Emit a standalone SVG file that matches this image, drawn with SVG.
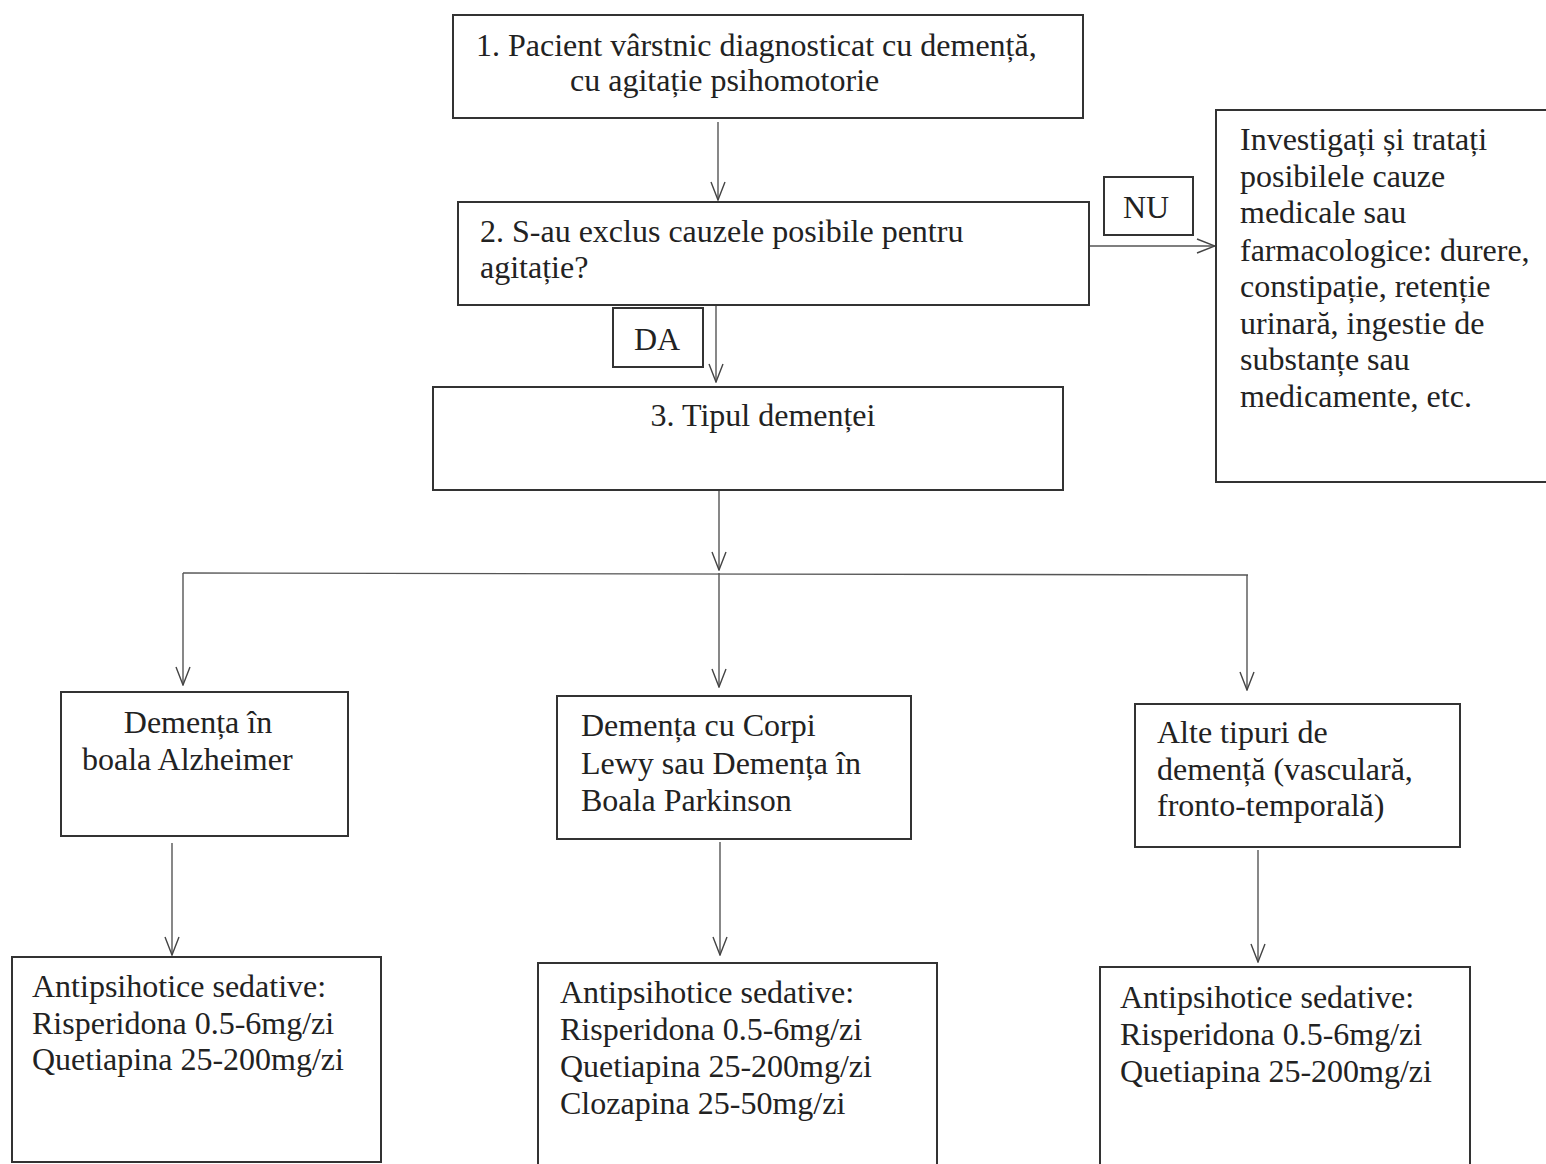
<svg xmlns="http://www.w3.org/2000/svg" width="1546" height="1164" viewBox="0 0 1546 1164">
<defs>
<marker id="arr" viewBox="0 0 20 16" refX="19" refY="8" markerWidth="20" markerHeight="16" markerUnits="userSpaceOnUse" orient="auto">
<path d="M1,1 L19,8 L1,15" fill="none" stroke="#444" stroke-width="1.4"/>
</marker>
<style>
.box{fill:#fff;stroke:#333;stroke-width:2}
.t{font-family:"Liberation Serif","Times New Roman",serif;font-size:32px;fill:#222}
.c{text-anchor:middle}
.ln{fill:none;stroke:#555;stroke-width:1.4}
</style>
</defs>
<rect width="1546" height="1164" fill="#fff"/>
<g id="connectors">
<line class="ln" x1="718" y1="122" x2="718" y2="200" marker-end="url(#arr)"/>
<line class="ln" x1="1089" y1="246" x2="1215" y2="246" marker-end="url(#arr)"/>
<line class="ln" x1="716" y1="305" x2="716" y2="382" marker-end="url(#arr)"/>
<line class="ln" x1="719" y1="490" x2="719" y2="570" marker-end="url(#arr)"/>
<polyline class="ln" points="183,573 1248,575"/>
<line class="ln" x1="183" y1="573" x2="183" y2="685" marker-end="url(#arr)"/>
<line class="ln" x1="719" y1="573" x2="719" y2="687" marker-end="url(#arr)"/>
<line class="ln" x1="1247" y1="575" x2="1247" y2="690" marker-end="url(#arr)"/>
<line class="ln" x1="172" y1="843" x2="172" y2="955" marker-end="url(#arr)"/>
<line class="ln" x1="720" y1="842" x2="720" y2="955" marker-end="url(#arr)"/>
<line class="ln" x1="1258" y1="850" x2="1258" y2="962" marker-end="url(#arr)"/>
</g>
<g id="n1">
<rect class="box" x="453" y="15" width="630" height="103"/>
<text class="t" x="476" y="56">1. Pacient vârstnic diagnosticat cu demență,</text>
<text class="t" x="570" y="91">cu agitație psihomotorie</text>
</g>
<g id="n2">
<rect class="box" x="458" y="202" width="631" height="103"/>
<text class="t" x="480" y="242">2. S-au exclus cauzele posibile pentru</text>
<text class="t" x="480" y="278">agitație?</text>
</g>
<g id="nu">
<rect class="box" x="1104" y="177" width="89" height="58"/>
<text class="t c" x="1146" y="218">NU</text>
</g>
<g id="n_investigati">
<rect class="box" x="1216" y="110" width="340" height="372"/>
<text class="t" x="1240" y="150">Investigați și tratați</text>
<text class="t" x="1240" y="187">posibilele cauze</text>
<text class="t" x="1240" y="223">medicale sau</text>
<text class="t" x="1240" y="261">farmacologice: durere,</text>
<text class="t" x="1240" y="297">constipație, retenție</text>
<text class="t" x="1240" y="334">urinară, ingestie de</text>
<text class="t" x="1240" y="370">substanțe sau</text>
<text class="t" x="1240" y="407">medicamente, etc.</text>
</g>
<g id="da">
<rect class="box" x="613" y="308" width="90" height="59"/>
<text class="t c" x="657" y="350">DA</text>
</g>
<g id="n3">
<rect class="box" x="433" y="387" width="630" height="103"/>
<text class="t c" x="763" y="426">3. Tipul demenței</text>
</g>
<g id="nA">
<rect class="box" x="61" y="692" width="287" height="144"/>
<text class="t c" x="198" y="733">Demența în</text>
<text class="t" x="82" y="770">boala Alzheimer</text>
</g>
<g id="nB">
<rect class="box" x="557" y="696" width="354" height="143"/>
<text class="t" x="581" y="736">Demența cu Corpi</text>
<text class="t" x="581" y="774">Lewy sau Demența în</text>
<text class="t" x="581" y="811">Boala Parkinson</text>
</g>
<g id="nC">
<rect class="box" x="1135" y="704" width="325" height="143"/>
<text class="t" x="1157" y="743">Alte tipuri de</text>
<text class="t" x="1157" y="780">demență (vasculară,</text>
<text class="t" x="1157" y="816">fronto-temporală)</text>
</g>
<g id="nD">
<rect class="box" x="12" y="957" width="369" height="205"/>
<text class="t" x="32" y="997">Antipsihotice sedative:</text>
<text class="t" x="32" y="1034">Risperidona 0.5-6mg/zi</text>
<text class="t" x="32" y="1070">Quetiapina 25-200mg/zi</text>
</g>
<g id="nE">
<rect class="box" x="538" y="963" width="399" height="210"/>
<text class="t" x="560" y="1003">Antipsihotice sedative:</text>
<text class="t" x="560" y="1040">Risperidona 0.5-6mg/zi</text>
<text class="t" x="560" y="1077">Quetiapina 25-200mg/zi</text>
<text class="t" x="560" y="1114">Clozapina 25-50mg/zi</text>
</g>
<g id="nF">
<rect class="box" x="1100" y="967" width="370" height="210"/>
<text class="t" x="1120" y="1008">Antipsihotice sedative:</text>
<text class="t" x="1120" y="1045">Risperidona 0.5-6mg/zi</text>
<text class="t" x="1120" y="1082">Quetiapina 25-200mg/zi</text>
</g>
</svg>
